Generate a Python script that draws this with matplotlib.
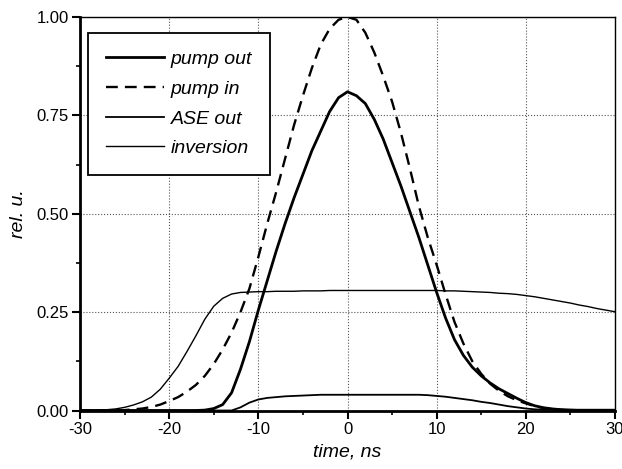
import matplotlib
matplotlib.use("Agg")
import matplotlib.pyplot as plt
from matplotlib.ticker import MultipleLocator

time_ns = list(range(-30, 31))

pump_out = [0, 0, 0, 0, 0, 0, 0, 0, 0, 0,            # -30..-21
            0, 0, 0, 0, 0.001, 0.005, 0.015, 0.045, 0.105, 0.175,  # -20..-11
            0.255, 0.33, 0.405, 0.475, 0.54, 0.60, 0.66, 0.71, 0.76, 0.795,  # -10..-1
            0.81,                                          # 0
            0.80, 0.78, 0.74, 0.69, 0.63, 0.57, 0.505, 0.44, 0.37, 0.30,  # 1..10
            0.235, 0.18, 0.14, 0.11, 0.088, 0.07, 0.055, 0.043, 0.031, 0.02,  # 11..20
            0.012, 0.007, 0.004, 0.002, 0.001, 0, 0, 0, 0, 0]  # 21..30

pump_in = [0, 0, 0, 0, 0.001, 0.001, 0.003, 0.005, 0.009, 0.015,  # -30..-21
           0.024, 0.034, 0.048, 0.065, 0.088, 0.118, 0.155, 0.198, 0.25, 0.31,  # -20..-11
           0.39, 0.475, 0.555, 0.64, 0.725, 0.80, 0.87, 0.93, 0.97, 0.993,  # -10..-1
           1.00,
           0.993, 0.96, 0.91, 0.85, 0.785, 0.705, 0.615, 0.52, 0.44, 0.37,  # 1..10
           0.295, 0.225, 0.17, 0.125, 0.093, 0.068, 0.05, 0.036, 0.026, 0.018,  # 11..20
           0.011, 0.006, 0.003, 0.0015, 0, 0, 0, 0, 0, 0]

ase_out = [0, 0, 0, 0, 0, 0, 0, 0, 0, 0,
           0, 0, 0, 0, 0, 0, 0, 0, 0.008, 0.02,
           0.028, 0.032, 0.034, 0.036, 0.037, 0.038, 0.039, 0.04, 0.04, 0.04,
           0.04,
           0.04, 0.04, 0.04, 0.04, 0.04, 0.04, 0.04, 0.04, 0.039, 0.037,
           0.035, 0.032, 0.029, 0.026, 0.022, 0.019, 0.015, 0.011, 0.008, 0.005,
           0.003, 0.002, 0.002, 0.002, 0.002, 0.002, 0.002, 0.002, 0.002, 0.002]

inversion = [0, 0, 0.001, 0.002, 0.004, 0.008, 0.014, 0.022, 0.034, 0.054,
             0.082, 0.112, 0.15, 0.19, 0.232, 0.265, 0.285, 0.296, 0.30, 0.301,
             0.302, 0.302, 0.303, 0.303, 0.303, 0.304, 0.304, 0.304, 0.305, 0.305,
             0.305,
             0.305, 0.305, 0.305, 0.305, 0.305, 0.305, 0.305, 0.305, 0.305, 0.305,
             0.304, 0.304, 0.303, 0.302, 0.301, 0.30, 0.298, 0.297, 0.295, 0.292,
             0.289, 0.285, 0.281, 0.277, 0.273, 0.268, 0.264, 0.259, 0.255, 0.251]

x_ticks = [-30, -20, -10, 0, 10, 20, 30]
y_ticks = [0.0, 0.25, 0.5, 0.75, 1.0]
y_tick_labels = ["0.00", "0.25", "0.50", "0.75", "1.00"]

plt.rcParams['font.family'] = ['Liberation Sans', 'DejaVu Sans']

fig = plt.figure(figsize=(6.22, 4.69), dpi=100)
ax = fig.add_axes([80/622, 1-410.5/469, 535/622, 393.5/469])

ax.plot(time_ns, pump_out, color='black', lw=2.0, label='pump out')
ax.plot(time_ns, pump_in, color='black', lw=1.7, ls=(0, (5, 3)), label='pump in')
ax.plot(time_ns, ase_out, color='black', lw=1.3, label='ASE out')
ax.plot(time_ns, inversion, color='black', lw=1.0, label='inversion')

ax.set_xlim(-30, 30)
ax.set_ylim(0, 1.0)
ax.set_xticks(x_ticks)
ax.set_xticklabels([str(v) for v in x_ticks])
ax.set_yticks(y_ticks)
ax.set_yticklabels(y_tick_labels)
ax.xaxis.set_minor_locator(MultipleLocator(5))
ax.yaxis.set_minor_locator(MultipleLocator(0.125))
ax.tick_params(which='major', direction='out', length=6, width=1.5, labelsize=12, pad=2)
ax.tick_params(which='minor', direction='out', length=3, width=1.2)

ax.grid(True, which='major', color='#555555', ls=':', lw=0.8)
ax.set_axisbelow(True)

ax.spines['left'].set_linewidth(2.0)
ax.spines['bottom'].set_linewidth(2.0)
ax.spines['top'].set_linewidth(1.0)
ax.spines['right'].set_linewidth(1.0)

ax.set_xlabel('time, ns', fontsize=14, style='italic', labelpad=5)
ax.set_ylabel('rel. u.', fontsize=14, style='italic', labelpad=7)

leg = ax.legend(loc='upper left', bbox_to_anchor=(0.015, 0.959), borderaxespad=0,
                prop={'style': 'italic', 'size': 14}, handlelength=3.0,
                handletextpad=0.35, labelspacing=0.62, borderpad=0.9,
                frameon=True, fancybox=False, edgecolor='black', framealpha=1)
leg.get_frame().set_linewidth(1.3)

fig.savefig('out.png', dpi=100)
